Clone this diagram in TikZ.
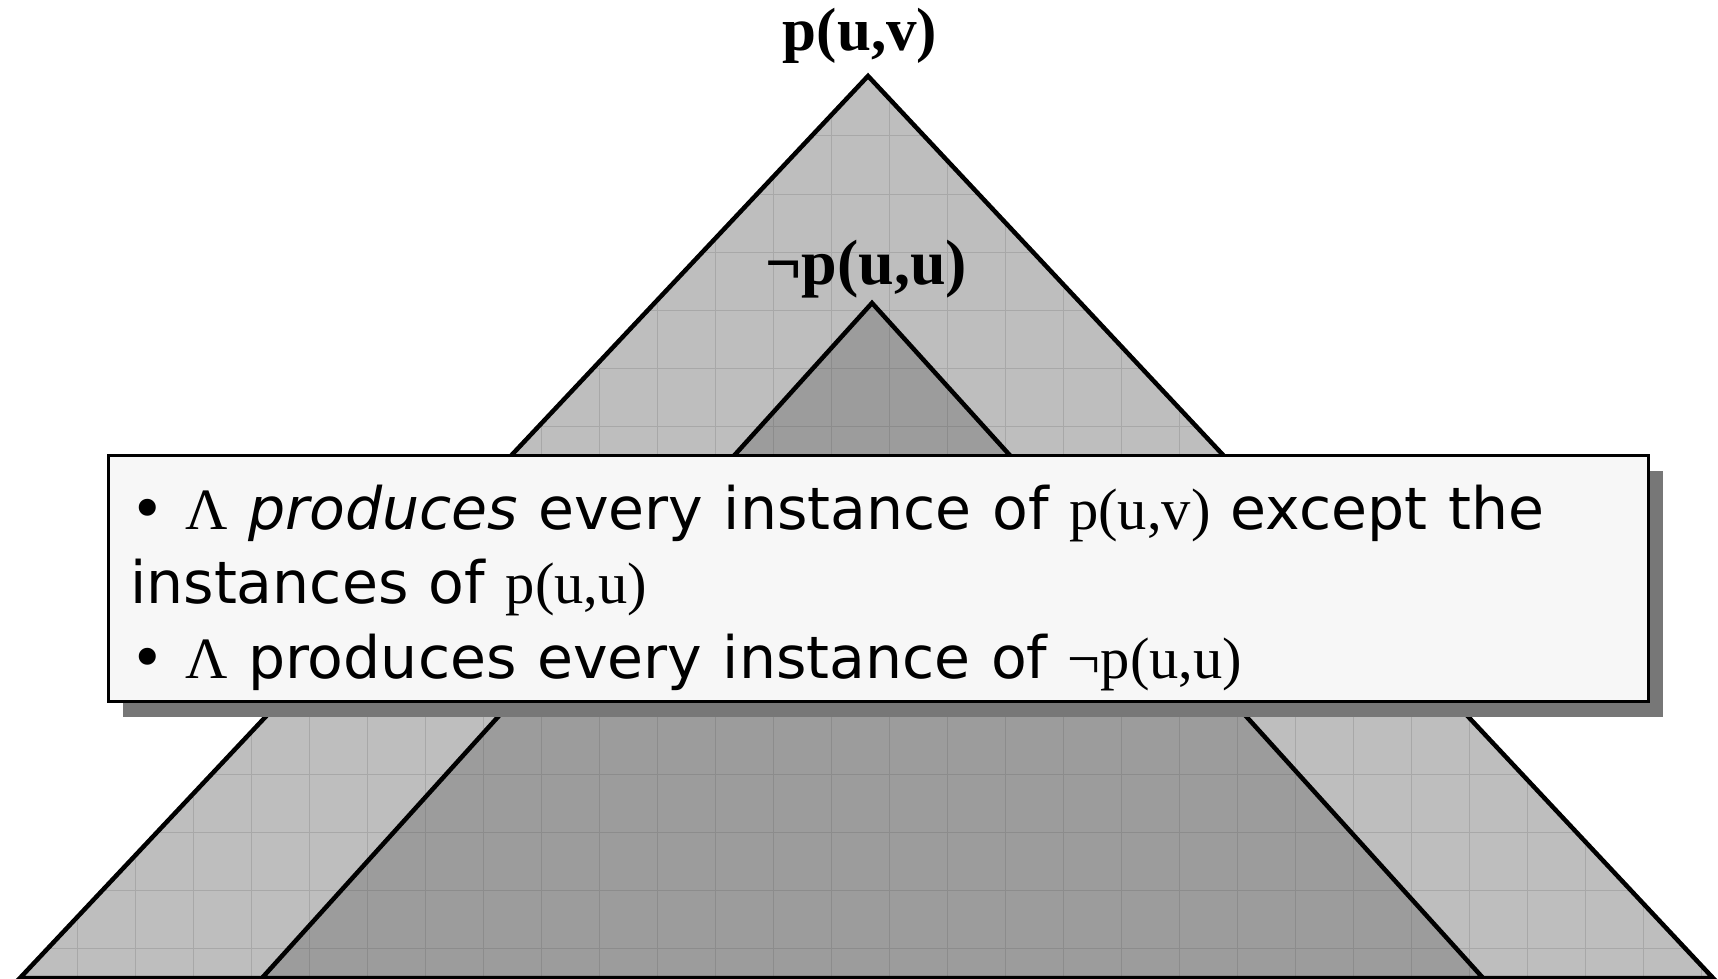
\documentclass[tikz,border=0pt]{standalone}
\usepackage{fontspec}
\newfontfamily\verd[WordSpace=1.1]{DejaVu Sans}
\newfontfamily\tms{Liberation Serif}
\definecolor{outerfill}{HTML}{BEBEBE}
\definecolor{innerfill}{HTML}{9C9C9C}
\definecolor{grido}{HTML}{A8A8A8}
\definecolor{gridi}{HTML}{8C8C8C}
\definecolor{shadowc}{HTML}{777777}
\definecolor{boxfill}{HTML}{F7F7F7}
\begin{document}
\begin{tikzpicture}[x=1pt,y=-1pt,
  triedge/.style={draw=black,line width=4.5pt,line join=miter},
  gridline/.style={line width=1pt},
  title/.style={font=\tms\bfseries,inner sep=0pt,anchor=base},
  bodyline/.style={font=\verd\fontsize{58.5}{68}\selectfont,inner sep=0pt,anchor=base west}]
\useasboundingbox (0,0) rectangle (1718,979);
% outer triangle
\coordinate (OA) at (868,76);
\coordinate (OL) at (20,978);
\coordinate (OR) at (1713,978);
\fill[outerfill] (OA)--(OL)--(OR)--cycle;
\begin{scope}
  \clip (OA)--(OL)--(OR)--cycle;
  \foreach \i in {0,...,30} \draw[gridline,grido] ({19+58*\i},0) -- ({19+58*\i},979);
  \foreach \j in {0,...,17} \draw[gridline,grido] (0,{948-58*\j}) -- (1718,{948-58*\j});
\end{scope}
\draw[triedge] (OA)--(OL)--(OR)--cycle;
% inner triangle
\coordinate (IA) at (872,303);
\coordinate (IL) at (262,978);
\coordinate (IR) at (1483,978);
\fill[innerfill] (IA)--(IL)--(IR)--cycle;
\begin{scope}
  \clip (IA)--(IL)--(IR)--cycle;
  \foreach \i in {0,...,30} \draw[gridline,gridi] ({19+58*\i},0) -- ({19+58*\i},979);
  \foreach \j in {0,...,17} \draw[gridline,gridi] (0,{948-58*\j}) -- (1718,{948-58*\j});
\end{scope}
\draw[triedge] (IA)--(IL)--(IR)--cycle;
% titles
\node[title,font=\tms\bfseries\fontsize{61}{61}\selectfont] (t1) at (860,51) {p(u,v)};
\node[title,font=\tms\bfseries\fontsize{64}{64}\selectfont] (t2) at (866,284) {¬p(u,u)};
% box with shadow
\fill[shadowc] (123,471) rectangle (1663,717);
\draw[fill=boxfill,line width=3pt] (108,455) rectangle (1648,701);
\node[bodyline] (l1) at (130,529) {• {\tms Λ} \textit{produces} every instance of {\tms p(u,v)} except the};
\node[bodyline] (l2) at (130,603) {instances of {\tms p(u,u)}};
\node[bodyline] (l3) at (130,678) {• {\tms Λ} produces every instance of {\tms ¬p(u,u)}};
\end{tikzpicture}
\end{document}
